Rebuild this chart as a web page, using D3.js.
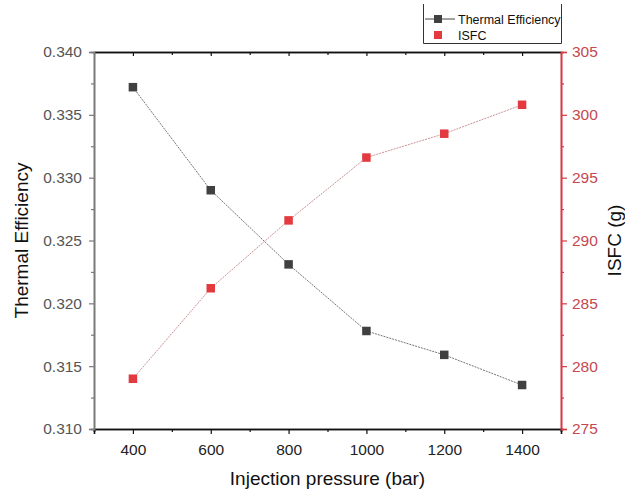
<!DOCTYPE html>
<html>
<head>
<meta charset="utf-8">
<script src="https://cdn.jsdelivr.net/npm/d3@7"></script>
<style>
  body { margin: 0; background: #fff; }
  text { font-family: "Liberation Sans", Arial, sans-serif; }
</style>
</head>
<body>
<div id="chart"></div>
<script>
// data
const pressures = [400, 600, 800, 1000, 1200, 1400];
const thermalEff = [0.3372, 0.3290, 0.3231, 0.3178, 0.3159, 0.3135];
const isfc = [279.0, 286.2, 291.6, 296.6, 298.5, 300.8];
const xTicks = [400, 600, 800, 1000, 1200, 1400];
const yLeftTicks = [0.310, 0.315, 0.320, 0.325, 0.330, 0.335, 0.340];
const yRightTicks = [275, 280, 285, 290, 295, 300, 305];

const chart = {width: 625, height: 491, margin: {left: 94, right: 64, top: 52, bottom: 62}};
chart.innerWidth = chart.width - chart.margin.left - chart.margin.right;
chart.innerHeight = chart.height - chart.margin.top - chart.margin.bottom;

const colors = {black: "#404040", red: "#e23a3e", redAxis: "#d63a42", redText: "#c54850", grey: "#7a7a7a"};

const svg = d3.select("#chart")
    .append("svg")
    .attr("width", chart.width)
    .attr("height", chart.height)
    .append("g")
    .attr("transform", `translate(${chart.margin.left}, ${chart.margin.top})`);

const x = d3.scaleLinear().domain([300, 1500]).range([0, chart.innerWidth]);
const yL = d3.scaleLinear().domain([0.310, 0.340]).range([chart.innerHeight, 0]);
const yR = d3.scaleLinear().domain([275, 305]).range([chart.innerHeight, 0]);

const minorX = d3.range(300, 1501, 100).filter(v => !xTicks.includes(v));
const minorYL = d3.range(0, 6).map(i => 0.3125 + i * 0.005);
const minorYR = d3.range(0, 6).map(i => 277.5 + i * 5);

// bottom axis
const bottomAxis = svg.append("g").attr("transform", `translate(0, ${chart.innerHeight})`);
bottomAxis.call(d3.axisBottom(x).tickValues(minorX).tickSize(3).tickFormat(""));
bottomAxis.append("g").call(d3.axisBottom(x).tickValues(xTicks).tickSize(5).tickPadding(10).tickFormat(d3.format("d")));
bottomAxis.selectAll("path.domain").attr("stroke", "#111").attr("stroke-width", 1.6);
bottomAxis.selectAll("line").attr("stroke", "#111").attr("stroke-width", 1.2);
bottomAxis.selectAll("text").attr("font-size", 15.5).attr("fill", "#222");

// top axis, ticks pointing in
const topAxis = svg.append("g");
topAxis.call(d3.axisBottom(x).tickValues(minorX).tickSize(3).tickFormat("").tickSizeOuter(0));
topAxis.append("g").call(d3.axisBottom(x).tickValues(xTicks).tickSize(4).tickFormat("").tickSizeOuter(0));
topAxis.selectAll("path.domain").attr("stroke", "#111").attr("stroke-width", 1.6);
topAxis.selectAll("line").attr("stroke", "#111").attr("stroke-width", 1.2);

// left axis
const leftAxis = svg.append("g");
leftAxis.call(d3.axisLeft(yL).tickValues(minorYL).tickSize(3).tickFormat(""));
leftAxis.append("g").call(d3.axisLeft(yL).tickValues(yLeftTicks).tickSize(5).tickPadding(7).tickFormat(d3.format(".3f")));
leftAxis.selectAll("path.domain").attr("stroke", colors.grey).attr("stroke-width", 1.6);
leftAxis.selectAll("line").attr("stroke", colors.grey).attr("stroke-width", 1.2);
leftAxis.selectAll("text").attr("font-size", 15.5).attr("fill", "#555");

// right axis
const rightAxis = svg.append("g").attr("transform", `translate(${chart.innerWidth}, 0)`);
rightAxis.call(d3.axisRight(yR).tickValues(minorYR).tickSize(3).tickFormat(""));
rightAxis.append("g").call(d3.axisRight(yR).tickValues(yRightTicks).tickSize(6).tickPadding(5).tickFormat(d3.format("d")));
rightAxis.selectAll("path.domain").attr("stroke", colors.redAxis).attr("stroke-width", 1.6);
rightAxis.selectAll("line").attr("stroke", colors.redAxis).attr("stroke-width", 1.2);
rightAxis.selectAll("text").attr("font-size", 15.5).attr("fill", colors.redText);

// series lines
const lineL = d3.line().x((d, i) => x(pressures[i])).y(d => yL(d));
const lineR = d3.line().x((d, i) => x(pressures[i])).y(d => yR(d));

svg.append("path")
    .datum(thermalEff)
    .attr("d", lineL)
    .attr("fill", "none")
    .attr("stroke", "#666")
    .attr("stroke-width", 0.9)
    .attr("stroke-dasharray", "2,1");

svg.append("path")
    .datum(isfc)
    .attr("d", lineR)
    .attr("fill", "none")
    .attr("stroke", "#c58488")
    .attr("stroke-width", 0.9)
    .attr("stroke-dasharray", "2,1");

// points
const sq = 8.5;
svg.append("g").selectAll("rect")
    .data(thermalEff)
    .enter()
    .append("rect")
    .attr("x", (d, i) => x(pressures[i]) - sq / 2)
    .attr("y", d => yL(d) - sq / 2)
    .attr("width", sq)
    .attr("height", sq)
    .attr("fill", colors.black);

svg.append("g").selectAll("rect")
    .data(isfc)
    .enter()
    .append("rect")
    .attr("x", (d, i) => x(pressures[i]) - sq / 2)
    .attr("y", d => yR(d) - sq / 2)
    .attr("width", sq)
    .attr("height", sq)
    .attr("fill", colors.red);

// axis titles
svg.append("text")
    .text("Injection pressure (bar)")
    .attr("font-size", 19)
    .attr("fill", "#111")
    .style("text-anchor", "middle")
    .attr("transform", `translate(${chart.innerWidth / 2}, ${chart.innerHeight + 56})`);

svg.append("text")
    .text("Thermal Efficiency")
    .attr("font-size", 19)
    .attr("fill", "#111")
    .style("text-anchor", "middle")
    .attr("transform", `translate(${-66}, ${chart.innerHeight / 2}) rotate(-90)`);

svg.append("text")
    .text("ISFC (g)")
    .attr("font-size", 19)
    .attr("fill", "#111")
    .style("text-anchor", "middle")
    .attr("transform", `translate(${chart.innerWidth + 60}, ${chart.innerHeight / 2}) rotate(-90)`);

// legend (box open at the top, as in the reference)
const legend = d3.select("svg").append("g");
legend.append("path")
    .attr("d", "M423.5,4 V43.5 H561.5 V4")
    .attr("fill", "none")
    .attr("stroke", "#333")
    .attr("stroke-width", 1);
legend.append("line")
    .attr("x1", 425).attr("x2", 455).attr("y1", 19).attr("y2", 19)
    .attr("stroke", "#444").attr("stroke-width", 1);
legend.append("rect")
    .attr("x", 438 - 4).attr("y", 19 - 4).attr("width", 8).attr("height", 8)
    .attr("fill", colors.black);
legend.append("rect")
    .attr("x", 438 - 4).attr("y", 35 - 4).attr("width", 8).attr("height", 8)
    .attr("fill", colors.red);
legend.append("text")
    .text("Thermal Efficiency")
    .attr("x", 458).attr("y", 23.5)
    .attr("font-size", 12.5)
    .attr("fill", "#111");
legend.append("text")
    .text("ISFC")
    .attr("x", 458).attr("y", 39.5)
    .attr("font-size", 12.5)
    .attr("fill", "#111");
</script>
</body>
</html>
